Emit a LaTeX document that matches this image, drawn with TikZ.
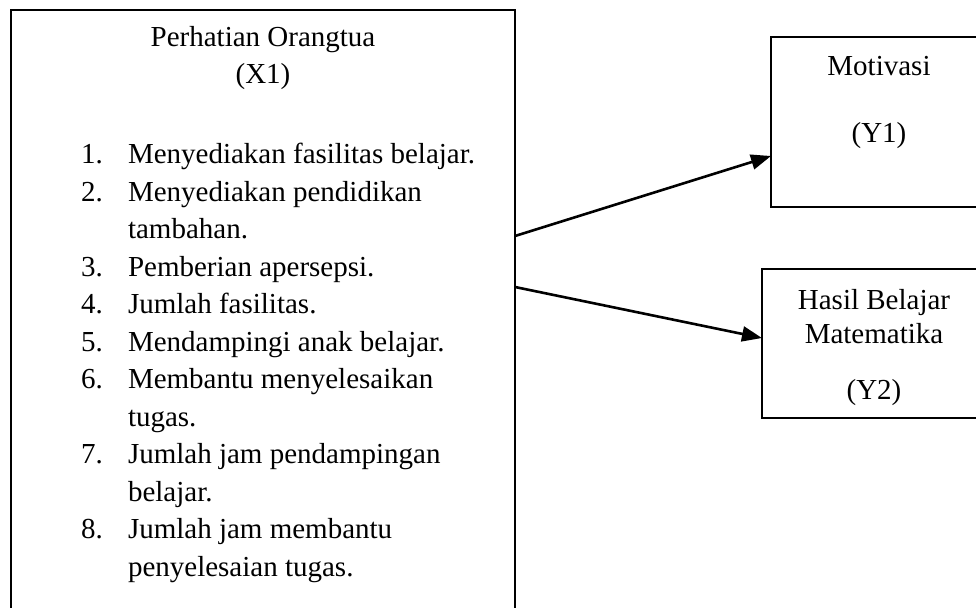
\documentclass[tikz,border=0pt]{standalone}
\usepackage{fontspec}
\setmainfont{Liberation Serif}
\usetikzlibrary{arrows.meta}
\begin{document}
\begin{tikzpicture}[x=1pt,y=-1pt,
  every node/.style={inner sep=0pt,outer sep=0pt,font=\fontsize{29}{37.5}\selectfont},
  bigbox/.style={draw,line width=2.2pt,anchor=north west},
  smallbox/.style={draw,line width=1.6pt,anchor=north west},
  lbl/.style={anchor=base},
  num/.style={anchor=base west},
  item/.style={anchor=base west},
  conn/.style={line width=2.6pt,-{Triangle[length=20pt,width=15pt]}}]
\useasboundingbox (0,0) rectangle (976,607);
\begin{scope}
\clip (0,0) rectangle (976,607);
\node[bigbox,minimum width=504pt,minimum height=640pt] (X) at (11,10) {};
\node[smallbox,minimum width=216pt,minimum height=170pt] (Y1) at (771,37) {};
\node[smallbox,minimum width=225pt,minimum height=149pt] (Y2) at (762,269) {};
\end{scope}
% left box texts
\node[lbl] (t1) at (263,47) {Perhatian Orangtua};
\node[lbl] (t2) at (263,84) {(X1)};
\node[num] (n1) at (81,163) {1.};
\node[item] (i1) at (128,163) {Menyediakan fasilitas belajar.};
\node[num] (n2) at (81,201) {2.};
\node[item] (i2) at (128,201) {Menyediakan pendidikan};
\node[item] (i2b) at (128,238) {tambahan.};
\node[num] (n3) at (81,276) {3.};
\node[item] (i3) at (128,276) {Pemberian apersepsi.};
\node[num] (n4) at (81,313) {4.};
\node[item] (i4) at (128,313) {Jumlah fasilitas.};
\node[num] (n5) at (81,351) {5.};
\node[item] (i5) at (128,351) {Mendampingi anak belajar.};
\node[num] (n6) at (81,388) {6.};
\node[item] (i6) at (128,388) {Membantu menyelesaikan};
\node[item] (i6b) at (128,426) {tugas.};
\node[num] (n7) at (81,463) {7.};
\node[item] (i7) at (128,463) {Jumlah jam pendampingan};
\node[item] (i7b) at (128,501) {belajar.};
\node[num] (n8) at (81,538) {8.};
\node[item] (i8) at (128,538) {Jumlah jam membantu};
\node[item] (i8b) at (128,576) {penyelesaian tugas.};
% right box texts
\node[lbl] (m1) at (879,76) {Motivasi};
\node[lbl] (m2) at (879,142) {(Y1)};
\node[lbl] (h1) at (874,309) {Hasil Belajar};
\node[lbl] (h2) at (874,343) {Matematika};
\node[lbl] (h3) at (874,399) {(Y2)};
% connectors
\coordinate (s1) at (X.north east |- 0,236);
\coordinate (s2) at (X.north east |- 0,287);
\coordinate (e1) at (Y1.west |- 0,156);
\coordinate (e2) at (Y2.west |- 0,338);
\draw[conn] (s1) -- (e1);
\draw[conn] (s2) -- (e2);
\end{tikzpicture}
\end{document}
